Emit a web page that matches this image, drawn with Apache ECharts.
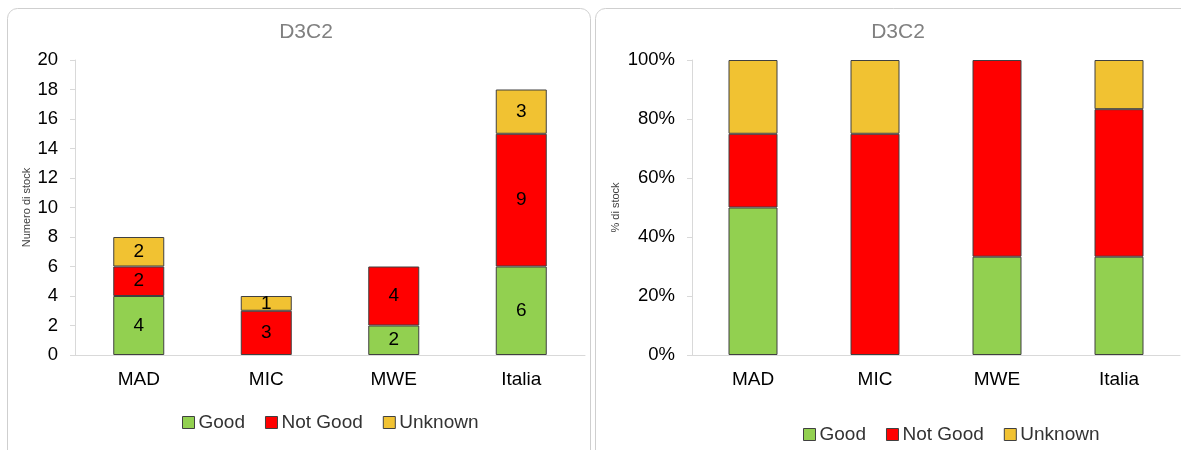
<!DOCTYPE html>
<html><head><meta charset="utf-8">
<script src="https://cdn.jsdelivr.net/npm/echarts@6/dist/echarts.min.js"></script>
<style>html,body{margin:0;padding:0;background:#fff}#c{width:1181px;height:450px}</style>
</head><body><div id="c"></div>
<script>
const categories = ['MAD', 'MIC', 'MWE', 'Italia'];
const goodCount = [4, 0, 2, 6];
const notGoodCount = [2, 3, 4, 9];
const unknownCount = [2, 1, 0, 3];
const goodPct = [50, 0, 33.33, 33.33];
const notGoodPct = [25, 75, 66.67, 50];
const unknownPct = [25, 25, 0, 16.67];
const countTicks = [0, 2, 4, 6, 8, 10, 12, 14, 16, 18, 20];
const pctTicks = [0, 20, 40, 60, 80, 100];
const seriesNames = ['Good', 'Not Good', 'Unknown'];
const colors = ['#92D050', '#FF0000', '#F1C232'];

const font = 'Liberation Sans, Arial, sans-serif';
const chart = echarts.init(document.getElementById('c'));

function yAxis(idx, ticks, name, fmt) {
  return {
    type: 'value', gridIndex: idx, min: ticks[0], max: ticks[ticks.length - 1],
    interval: ticks[1] - ticks[0],
    name: name, nameLocation: 'middle', nameRotate: 90, nameGap: idx === 0 ? 43 : 71,
    nameTextStyle: { fontSize: 11, color: '#404040', fontFamily: font },
    axisLine: { show: true, lineStyle: { color: '#d9d9d9' } },
    axisTick: { show: true, length: 5, lineStyle: { color: '#d9d9d9' } },
    splitLine: { show: false },
    axisLabel: { color: '#000', fontSize: 18.5, fontFamily: font, margin: 17, formatter: fmt }
  };
}
function xAxis(idx) {
  return {
    type: 'category', gridIndex: idx, data: categories,
    axisLine: { show: true, lineStyle: { color: '#d9d9d9' } },
    axisTick: { show: false },
    axisLabel: { color: '#000', fontSize: 19, fontFamily: font, margin: 15 }
  };
}
const borderStyle = { borderColor: '#404040', borderWidth: 1 };
const left = [goodCount, notGoodCount, unknownCount].map((d, i) => ({
  name: seriesNames[i], type: 'bar', stack: 'a', xAxisIndex: 0, yAxisIndex: 0,
  barWidth: 51, data: d.map(v => v === 0 ? null : v),
  itemStyle: Object.assign({ color: colors[i] }, borderStyle),
  label: { show: true, position: 'inside', color: '#000', fontSize: 19, fontFamily: font }
}));
const right = [goodPct, notGoodPct, unknownPct].map((d, i) => ({
  name: seriesNames[i], type: 'bar', stack: 'b', xAxisIndex: 1, yAxisIndex: 1,
  barWidth: 49, data: d.map(v => v === 0 ? null : v),
  itemStyle: Object.assign({ color: colors[i] }, borderStyle)
}));

const legendBase = {
  data: seriesNames, itemWidth: 12, itemHeight: 12, itemGap: 20, icon: 'rect',
  textStyle: { fontSize: 19, color: '#333', fontFamily: font, padding: [0, 0, 0, -1] },
  itemStyle: { borderColor: '#404040', borderWidth: 1 }
};

chart.setOption({
  animation: false,
  graphic: [
    { type: 'rect', shape: { x: 7.5, y: 8.5, width: 583, height: 460, r: 10 }, style: { fill: 'none', stroke: '#cfcfcf', lineWidth: 1 }, z: -1 },
    { type: 'rect', shape: { x: 595.5, y: 8.5, width: 600, height: 460, r: 10 }, style: { fill: 'none', stroke: '#cfcfcf', lineWidth: 1 }, z: -1 }
  ],
  title: [
    { text: 'D3C2', left: 301, top: 17, textAlign: 'center', textStyle: { color: '#808080', fontSize: 21, fontWeight: 'normal', fontFamily: font } },
    { text: 'D3C2', left: 893, top: 17, textAlign: 'center', textStyle: { color: '#808080', fontSize: 21, fontWeight: 'normal', fontFamily: font } }
  ],
  legend: [
    Object.assign({ left: 177, top: 408 }, legendBase),
    Object.assign({ left: 798, top: 420 }, legendBase)
  ],
  grid: [
    { left: 75, right: 596, top: 60, bottom: 95 },
    { left: 692, right: 1, top: 60, bottom: 95 }
  ],
  xAxis: [xAxis(0), xAxis(1)],
  yAxis: [yAxis(0, countTicks, 'Numero di stock', '{value}'), yAxis(1, pctTicks, '% di stock', '{value}%')],
  series: left.concat(right)
});
</script></body></html>
